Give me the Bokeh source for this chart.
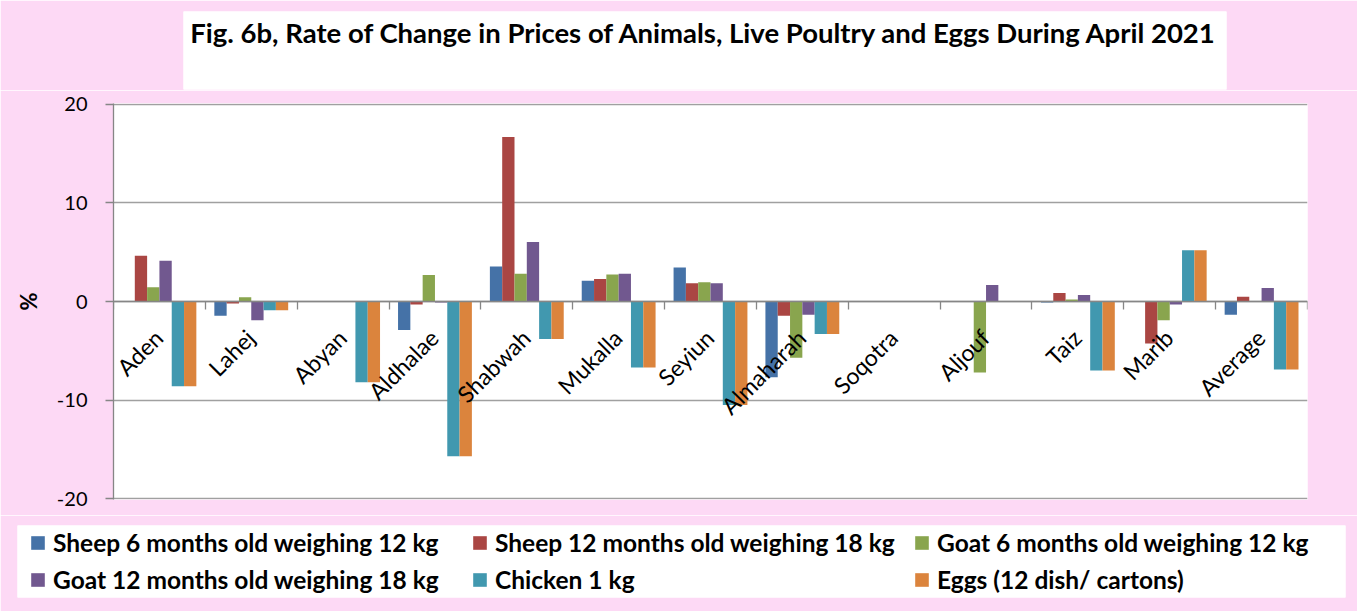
import math
import numpy as np
from bokeh.plotting import figure
from bokeh.models import (Range1d, FixedTicker, LinearAxis, Legend, LegendItem)
from bokeh.core.properties import value
from bokeh.embed import file_html
from bokeh.resources import INLINE

# ---------------- data ----------------
categories = ["Aden", "Lahej", "Abyan", "Aldhalae", "Shabwah", "Mukalla", "Seyiun",
              "Almaharah", "Soqotra", "Aljouf", "Taiz", "Marib", "Average"]
sheep6 = [0, -1.45, 0, -2.9, 3.56, 2.1, 3.46, -7.7, 0, 0, -0.1, 0, -1.35]
sheep12 = [4.64, -0.2, 0, -0.3, 16.7, 2.28, 1.85, -1.45, 0, 0, 0.87, -4.27, 0.47]
goat6 = [1.44, 0.44, 0, 2.7, 2.82, 2.75, 1.95, -5.7, 0, -7.2, 0.2, -1.9, 0]
goat12 = [4.13, -1.9, 0, -0.1, 6.05, 2.82, 1.85, -1.35, 0, 1.68, 0.67, -0.3, 1.38]
chicken = [-8.6, -0.9, -8.2, -15.7, -3.8, -6.7, -10.5, -3.3, 0, 0, -7.0, 5.2, -6.9]
eggs = [-8.6, -0.9, -8.2, -15.7, -3.8, -6.7, -10.5, -3.3, 0, 0, -7.0, 5.2, -6.9]

series_names = ["Sheep 6 months old weighing 12 kg", "Sheep 12 months old weighing 18 kg",
                "Goat 6 months old weighing 12 kg", "Goat 12 months old weighing 18 kg",
                "Chicken 1 kg", "Eggs (12 dish/ cartons)"]
series_values = [sheep6, sheep12, goat6, goat12, chicken, eggs]
colors = ["#4572A7", "#AA4643", "#89A54E", "#71588F", "#4198AF", "#DB843D"]
y_ticks = [-20, -10, 0, 10, 20]
y_tick_labels = {-20: "-20", -10: "-10", 0: "0", 10: "10", 20: "20"}
title_text = "Fig. 6b, Rate of  Change in Prices of Animals, Live Poultry and Eggs During  April 2021"
y_label = "%"

PINK = "#FDD9F5"
GRID = "#A0A0A0"
AXIS = "#868686"
FONT = "Lato"
W = 1357
n = len(categories)
bw = 0.134
centers = np.arange(n) + 0.5


def bare(fig):
    fig.border_fill_color = PINK
    fig.background_fill_color = "white"
    fig.outline_line_color = None
    fig.grid.visible = False


# ---------------- title ----------------
pt = figure(width=W, height=90, output_backend="svg", toolbar_location=None,
            x_range=Range1d(0, 1), y_range=Range1d(0, 1),
            x_axis_location=None, y_axis_location=None,
            min_border_left=183, min_border_right=131, min_border_top=11, min_border_bottom=1)
bare(pt)
pt.text(x=[0.0065], y=[0.735], text=[title_text], text_align="left",
        text_baseline="alphabetic", text_font=value(FONT), text_font_style="bold",
        text_font_size="27.5px", text_color="black")

# ---------------- main chart ----------------
p = figure(width=W, height=425, output_backend="svg", toolbar_location=None,
           x_range=Range1d(0, n), y_range=Range1d(-20.1, 20.1),
           x_axis_location=None,
           min_border_left=113, min_border_right=50, min_border_top=13, min_border_bottom=16)
p.border_fill_color = PINK
p.background_fill_color = "white"
p.outline_line_color = None
p.xgrid.visible = False
p.ygrid.ticker = FixedTicker(ticks=y_ticks)
p.ygrid.grid_line_color = GRID
p.ygrid.grid_line_width = 1.3

ya = p.yaxis[0]
ya.ticker = FixedTicker(ticks=y_ticks)
ya.major_label_overrides = y_tick_labels
ya.major_tick_out = 8
ya.major_tick_in = 0
ya.minor_tick_line_color = None
ya.axis_line_color = AXIS
ya.axis_line_width = 1.3
ya.major_tick_line_color = AXIS
ya.major_tick_line_width = 1.3
ya.major_label_text_font = FONT
ya.major_label_text_font_size = "20px"
ya.major_label_text_color = "black"
ya.major_label_standoff = 18
ya.axis_label = y_label
ya.axis_label_text_font = FONT
ya.axis_label_text_font_style = "bold"
ya.axis_label_text_font_size = "22px"
ya.axis_label_text_color = "black"
ya.axis_label_standoff = 12

xa = LinearAxis(fixed_location=0, ticker=FixedTicker(ticks=list(range(n + 1))))
xa.major_label_overrides = {i: "" for i in range(n + 1)}
xa.major_label_text_font_size = "1px"
xa.major_label_standoff = 0
xa.major_tick_out = 8
xa.major_tick_in = 0
xa.minor_tick_line_color = None
xa.axis_line_color = AXIS
xa.axis_line_width = 1.3
xa.major_tick_line_color = AXIS
xa.major_tick_line_width = 1.3
p.add_layout(xa, "below")

for k, (vals, col) in enumerate(zip(series_values, colors)):
    p.vbar(x=centers + (k - 2.5) * bw, top=vals, bottom=0, width=bw,
           fill_color=col, line_color=None)

p.text(x=centers - 0.01, y=[-3.25] * n, text=categories, angle=math.pi / 4,
       text_align="right", text_baseline="middle", text_font=value(FONT),
       text_font_size="23px", text_color="black")

# ---------------- legend (its own strip; series bars lie outside its view) ----------------
pl = figure(width=W, height=96, output_backend="svg", toolbar_location=None,
            x_range=Range1d(0, n), y_range=Range1d(100, 101),
            x_axis_location=None, y_axis_location=None,
            min_border_left=17, min_border_right=12, min_border_top=10, min_border_bottom=14)
bare(pl)
items = []
for k, (name, vals, col) in enumerate(zip(series_names, series_values, colors)):
    x0 = centers + (k - 2.5) * bw
    r = pl.quad(left=x0 - bw / 2, right=x0 + bw / 2, top=vals, bottom=0,
                fill_color=col, line_color=None)
    items.append(LegendItem(label=name, renderers=[r]))
legend = Legend(items=items, location=(12, 3), orientation="horizontal", ncols=3,
                padding=0, margin=0, spacing=8, label_standoff=7,
                glyph_width=17, glyph_height=17, label_width=410, label_height=22,
                background_fill_alpha=0, border_line_color=None,
                label_text_font=FONT, label_text_font_style="bold",
                label_text_font_size="24.5px", label_text_color="black")
pl.add_layout(legend)

open("out.html", "w").write(file_html([pt, p, pl], INLINE))
